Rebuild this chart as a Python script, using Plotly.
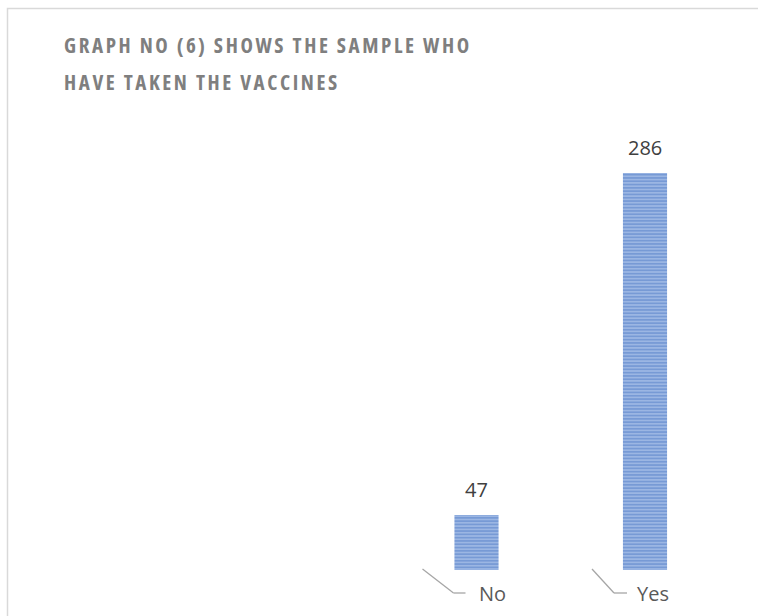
import plotly.graph_objects as go

# Data
categories = ["No", "Yes"]
counts = [47, 286]
title_lines = ["GRAPH NO (6) SHOWS THE SAMPLE WHO", "HAVE TAKEN THE VACCINES"]

W, H = 758, 616
positions = list(range(len(categories)))

fig = go.Figure()
fig.add_trace(go.Bar(
    x=positions,
    y=counts,
    width=0.262,
    marker=dict(
        color="#adc3ea",
        line=dict(width=0),
        pattern=dict(shape="-", fgcolor="#3d6dbf", bgcolor="#b0c6eb",
                     size=3.3, solidity=0.68, fillmode="overlay"),
    ),
    hoverinfo="skip",
    showlegend=False,
))

# Value labels above the bars
for xv, v in zip(positions, counts):
    fig.add_annotation(x=xv, y=v, text=str(v), showarrow=False,
                       xref="x", yref="y", yanchor="bottom", yshift=10,
                       font=dict(family="Open Sans", size=20, color="#404040"))

y_min = 8.56
y_bottom_px, y_top_px = 570, 140
base_paper = 1 - y_bottom_px / H

# Category labels with bent leader lines (pixel offsets from each category)
label_shift = [0, -10]
leader_points = [
    [(-54, 1), (-23, -23), (-11, -23)],
    [(-53, 1), (-31, -23), (-18, -23)],
]
for xv, name, dx, pts in zip(positions, categories, label_shift, leader_points):
    for (xa, ya), (xb, yb) in zip(pts[:-1], pts[1:]):
        fig.add_shape(type="line", xref="x", yref="paper",
                      xsizemode="pixel", ysizemode="pixel",
                      xanchor=xv, yanchor=base_paper,
                      x0=xa, y0=ya, x1=xb, y1=yb,
                      line=dict(color="#a6a6a6", width=1.3))
    fig.add_annotation(x=xv, y=base_paper, text=name, showarrow=False,
                       xref="x", yref="paper", xanchor="left", yanchor="middle",
                       xshift=dx, yshift=-23,
                       font=dict(family="Open Sans", size=20, color="#595959"))

# Title, two lines with letter spacing on a condensed face
for i, line in enumerate(title_lines):
    fig.add_annotation(
        x=62 / W, y=1 - (45.5 + 37 * i) / H, xref="paper", yref="paper",
        xanchor="left", yanchor="middle", showarrow=False,
        text=f'<span style="letter-spacing:2.6px;font-stretch:80%">{line}</span>',
        font=dict(family="Open Sans", size=21, color="#7f7f7f", weight=700),
    )

# Chart frame
fig.add_shape(type="rect", xref="paper", yref="paper",
              x0=7.5 / W, x1=1.05, y0=-0.05, y1=1 - 8.5 / H,
              line=dict(color="#d9d9d9", width=1.5), fillcolor="rgba(0,0,0,0)")

px_per_unit = 1.431
y_max = y_min + (y_bottom_px - y_top_px) / px_per_unit
x_unit_px = 168.5
x_min = -476.5 / x_unit_px

fig.update_layout(
    width=W, height=H,
    margin=dict(l=0, r=0, t=0, b=0),
    paper_bgcolor="white", plot_bgcolor="white",
    xaxis=dict(range=[x_min, x_min + W / x_unit_px], visible=False, fixedrange=True),
    yaxis=dict(range=[y_min, y_max], visible=False, fixedrange=True,
               domain=[base_paper, 1 - y_top_px / H]),
)

fig.write_html("out.html")
